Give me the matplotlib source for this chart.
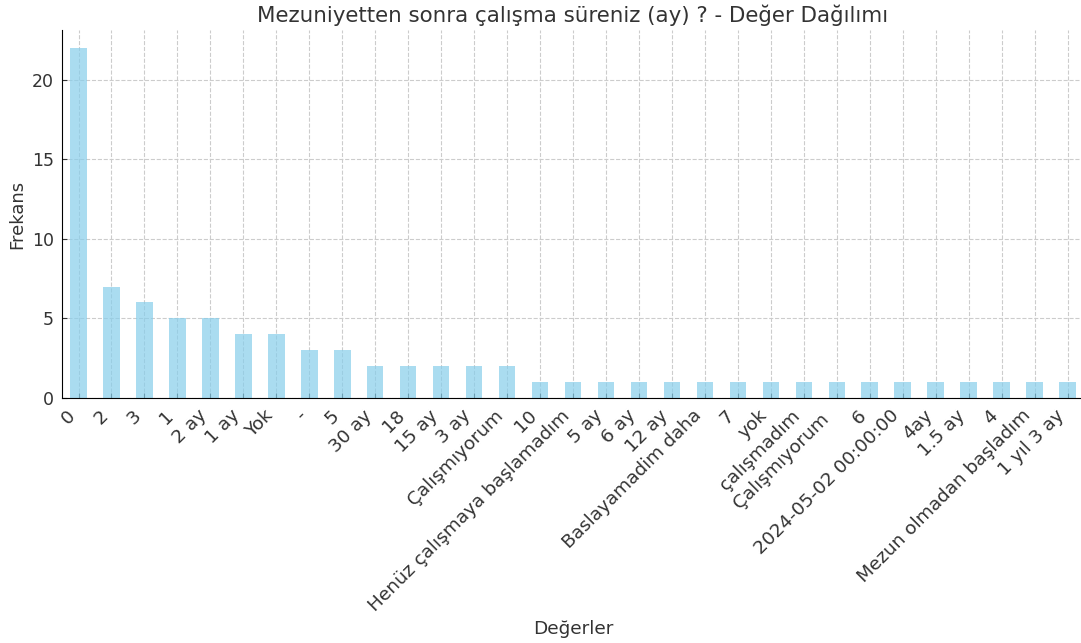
import matplotlib
matplotlib.use('Agg')
import matplotlib.pyplot as plt
import numpy as np

labels = ['0', '2', '3', '1', '2 ay', '1 ay', 'Yok', '-', '5', '30 ay', '18', '15 ay', '3 ay',
          'Çalışmıyorum', '10', 'Henüz çalışmaya başlamadım', '5 ay', '6 ay', '12 ay',
          'Baslayamadim daha', '7', 'yok', 'çalışmadım', 'Çalışmıyorum ', '6',
          '2024-05-02 00:00:00', '4ay', '1.5 ay', '4', 'Mezun olmadan başladım', '1 yıl 3 ay']
counts = [22, 7, 6, 5, 5, 4, 4, 3, 3, 2, 2, 2, 2,
          2, 1, 1, 1, 1, 1,
          1, 1, 1, 1, 1, 1,
          1, 1, 1, 1, 1, 1]

text_color = '#333333'
plt.rcParams['text.color'] = text_color
plt.rcParams['axes.labelcolor'] = text_color
plt.rcParams['xtick.color'] = text_color
plt.rcParams['ytick.color'] = text_color

fig = plt.figure(figsize=(10.81, 6.43), dpi=100)
ax = fig.add_axes([0.0574, 0.381, 0.9454, 0.572])

x = np.arange(len(labels))
ax.bar(x, counts, width=0.5, color='skyblue', alpha=0.7, zorder=2)
ax.set_xlim(-0.5, len(labels) - 0.5)
ax.set_ylim(0, max(counts) * 1.05)
ax.set_xticks(x)
ax.set_xticklabels(labels, rotation=45, ha='right', fontsize=13.3)
ax.tick_params(axis='x', direction='in', pad=6)
ax.tick_params(axis='y', direction='in', pad=6, labelsize=12.5)
ax.set_yticks([0, 5, 10, 15, 20])

ax.grid(True, linestyle='--', color='#cccccc', linewidth=0.8, zorder=0)
ax.spines['top'].set_visible(False)
ax.spines['right'].set_visible(False)

ax.set_title('Mezuniyetten sonra çalışma süreniz (ay) ? - Değer Dağılımı', fontsize=15.4)
ax.set_xlabel('Değerler', fontsize=13.3)
ax.set_ylabel('Frekans', fontsize=13)

fig.savefig('out.png', dpi=100)
